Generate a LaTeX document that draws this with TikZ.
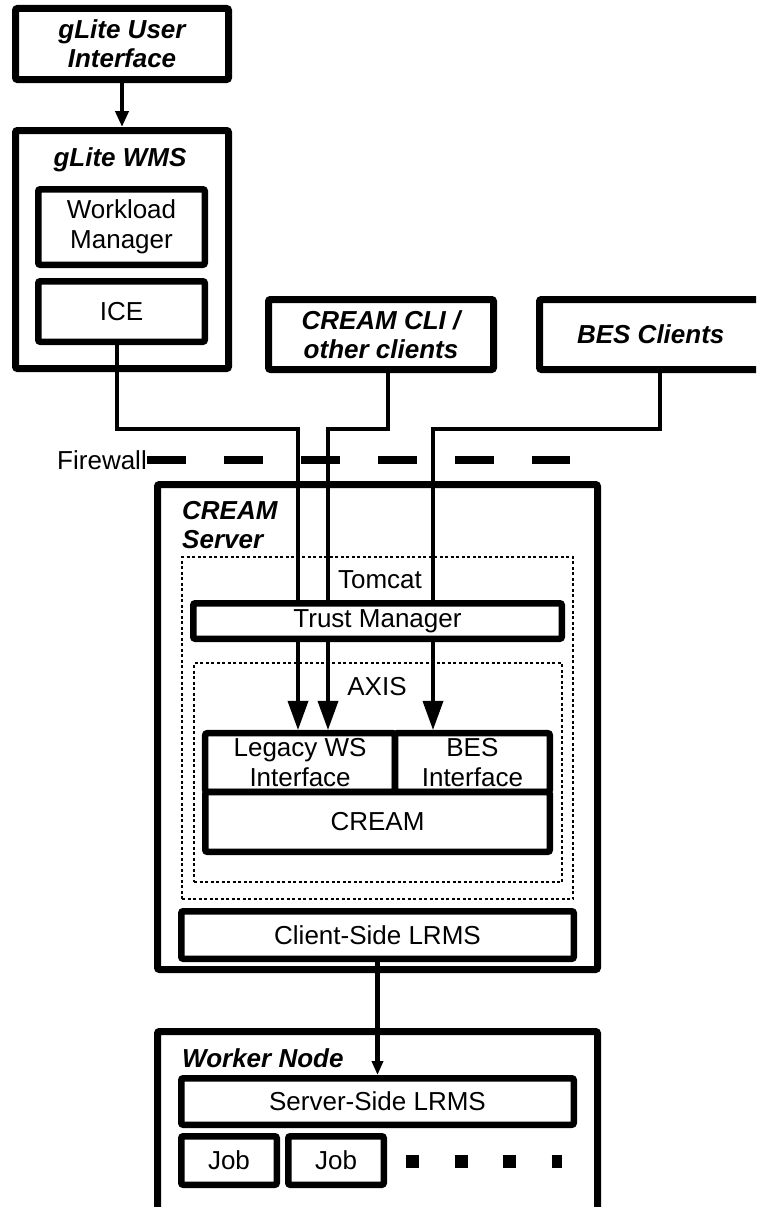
\documentclass[tikz,border=0pt]{standalone}
\usepackage{fontspec}
\setmainfont{Liberation Sans}
\usetikzlibrary{arrows.meta}
\newcommand{\boxfont}{\fontsize{26}{30}\selectfont}
\newcommand{\tagfont}{\fontsize{26}{29}\selectfont\bfseries\itshape}
\tikzset{
  box/.style={draw, line width=6.5pt, rounded corners=2pt, fill=white,
    inner sep=0pt, align=center, font=\boxfont},
  frame/.style={box, line width=7pt},
  zone/.style={draw, line width=2pt, dash pattern=on 3pt off 2.5pt, inner sep=0pt},
  tag/.style={font=\tagfont, inner sep=0pt, align=left},
  caption/.style={font=\boxfont, inner sep=0pt},
  wire/.style={line width=3.5pt},
  push/.style={wire, -{Triangle[length=29pt,width=20pt]}},
  firewall/.style={line width=8pt, dash pattern=on 38.5pt off 38.5pt}
}
\begin{document}
\begin{tikzpicture}[x=1pt,y=-1pt]
\path[use as bounding box, clip] (0,0) rectangle (756,1207);
% gLite side
\node[frame, font=\tagfont, minimum width=213pt, minimum height=71pt] (ui) at (122,44) {gLite User\\Interface};
\node[frame, minimum width=213pt, minimum height=238pt] (wms) at (122,249.5) {};
\node[tag] (wmsT) at (120,160) {gLite WMS};
\node[box, minimum width=166.5pt, minimum height=75.5pt] (wlm) at (121.5,227) {Workload\\Manager};
\node[box, minimum width=166.5pt, minimum height=60.5pt] (ice) at (121.5,311.5) {ICE};
\draw[wire, line width=4.5pt, -{Triangle[length=16pt,width=13pt]}] (ui) -- (wms);
% other clients
\node[frame, font=\tagfont, minimum width=225pt, minimum height=70pt] (cli) at (381,334.5) {CREAM CLI /\\other clients};
\node[frame, font=\tagfont, minimum width=222.5pt, minimum height=70pt] (besc) at (650.75,334.5) {BES Clients};
% firewall
\node[caption, anchor=east] (fw) at (147,460) {Firewall};
\coordinate (fwEnd) at (570,460);
\draw[firewall] (fw.east) -- (fwEnd);
% CREAM server
\node[frame, minimum width=440pt, minimum height=485pt] (server) at (377.5,727) {};
\node[tag, anchor=base west] (serverT) at (182,548) {CREAM\\Server};
\node[zone, minimum width=391pt, minimum height=342pt] (tomcat) at (377.5,728) {};
\node[caption] (tomcatT) at (380,580) {Tomcat};
\node[zone, minimum width=368pt, minimum height=219pt] (axis) at (378,772.5) {};
\node[caption] (axisT) at (377,687) {AXIS};
\node[box, minimum width=189.75pt, minimum height=58.75pt] (legacy) at (300.1,762.6) {Legacy WS\\Interface};
\node[box, minimum width=154.75pt, minimum height=58.75pt] (besif) at (472.4,762.6) {BES\\Interface};
\node[box, minimum width=344.5pt, minimum height=59.75pt] (cream) at (377.5,821.9) {CREAM};
% client connections
\coordinate (iceTurn) at (298,429);
\coordinate (cliTurn) at (328,429);
\coordinate (besTurn) at (433,429);
\draw[push] ([xshift=-4.5pt]ice.south) |- (iceTurn) -- (iceTurn |- legacy.north);
\draw[push] ([xshift=7pt]cli.south) |- (cliTurn) -- (cliTurn |- legacy.north);
\draw[push] ([xshift=9.25pt]besc.south) |- (besTurn) -- (besTurn |- besif.north);
\node[box, minimum width=368.5pt, minimum height=35.5pt] (trust) at (377.5,621) {Trust Manager};
\node[box, minimum width=392.5pt, minimum height=47.5pt] (clrms) at (377.5,935) {Client-Side LRMS};
% worker node
\node[frame, minimum width=440pt, minimum height=198.5pt] (worker) at (377.5,1130.75) {};
\node[tag, anchor=base west] (workerT) at (182,1067) {Worker Node};
\node[box, minimum width=392.5pt, minimum height=46.5pt] (slrms) at (377.5,1101.5) {Server-Side LRMS};
\node[box, minimum width=95.5pt, minimum height=48.5pt] (job1) at (229,1160.5) {Job};
\node[box, minimum width=95.5pt, minimum height=48.5pt] (job2) at (336,1160.5) {Job};
\draw[line width=13pt, dash pattern=on 13pt off 35.5pt] (406,1161) -- (562,1161);
\draw[wire, line width=4.5pt, -{Triangle[length=14pt,width=11pt]}] (clrms) -- (slrms);
\end{tikzpicture}
\end{document}
